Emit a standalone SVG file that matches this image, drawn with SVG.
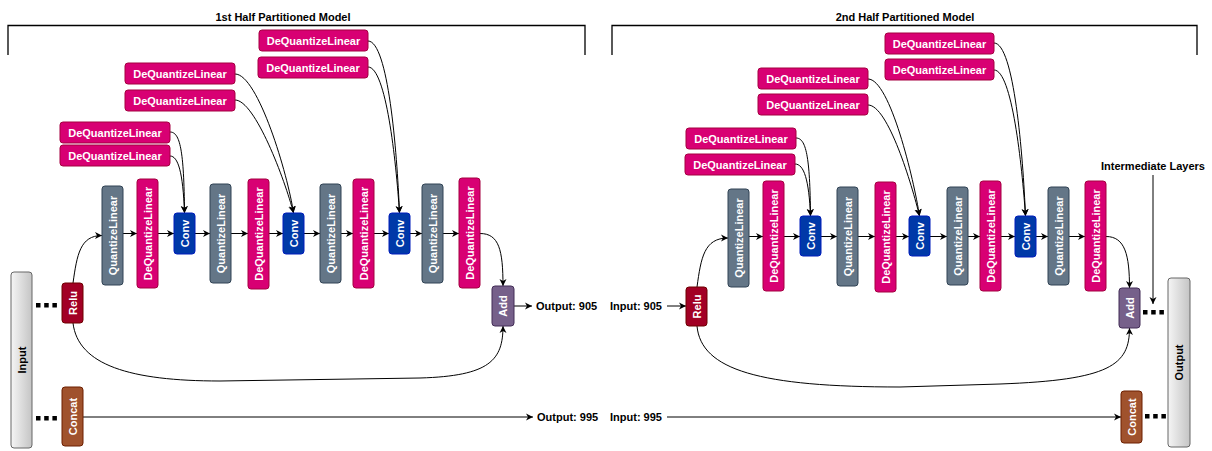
<svg xmlns="http://www.w3.org/2000/svg" width="1212" height="451" viewBox="0 0 1212 451">
<style>
text{font-family:"Liberation Sans",Arial,sans-serif;font-weight:bold;font-size:11px}
.w{fill:#fff;text-anchor:middle;dominant-baseline:central}
.k{fill:#000;dominant-baseline:central}
.dq{fill:#d80073;stroke:#a50040;stroke-width:1}
.q{fill:#647687;stroke:#314354;stroke-width:1}
.cv{fill:#0039a8;stroke:#001dbc;stroke-width:1}
.re{fill:#a20025;stroke:#6f0000;stroke-width:1}
.ad{fill:#76608a;stroke:#432d57;stroke-width:1}
.ct{fill:#a0522d;stroke:#6d1f00;stroke-width:1}
.io{fill:url(#g);stroke:#666;stroke-width:1}
.e{fill:none;stroke:#000;stroke-width:1}
.ea{fill:none;stroke:#000;stroke-width:1;marker-end:url(#ar)}
.br{fill:none;stroke:#000;stroke-width:1.3}
.dt{fill:#000}
</style>
<defs>
<linearGradient id="g" x1="0" y1="0" x2="1" y2="0">
<stop offset="0" stop-color="#f5f5f5"/><stop offset="1" stop-color="#c4c4c4"/>
</linearGradient>
<marker id="ar" markerUnits="userSpaceOnUse" markerWidth="8" markerHeight="8" viewBox="0 0 8 8" refX="7" refY="4" orient="auto">
<path d="M0,0.5 L7,4 L0,7.5 L2,4 Z" fill="#000"/>
</marker>
</defs>

<g id="brackets">
<path class="br" d="M8,55 V25.5 H585 V55"/>
<path class="br" d="M612,55 V25.5 H1197 V55"/>
<text x="283" y="17" text-anchor="middle" class="k">1st Half Partitioned Model</text>
<text x="905" y="17" text-anchor="middle" class="k">2nd Half Partitioned Model</text>
</g>

<g id="connectors">
<path class="ea" d="M170,132 C180,132 184,150 184.5,213"/>
<path class="ea" d="M170,156 C178,156 183,172 184.5,213"/>
<path class="ea" d="M235,74 C258,74 288,175 293.5,213"/>
<path class="ea" d="M235,100 C255,100 285,180 293.5,213"/>
<path class="ea" d="M368,41 C388,41 397,150 399.5,213"/>
<path class="ea" d="M368,67 C386,67 396,160 399.5,213"/>
<path class="ea" d="M73,283 C77,255 80,235.5 102,235.5"/>
<path class="ea" d="M123,233.5 H137"/>
<path class="ea" d="M158,233.5 H174"/>
<path class="ea" d="M195,233.5 H210"/>
<path class="ea" d="M231,233.5 H248"/>
<path class="ea" d="M269,233.5 H283"/>
<path class="ea" d="M304,233.5 H320"/>
<path class="ea" d="M341,233.5 H353"/>
<path class="ea" d="M374,233.5 H389"/>
<path class="ea" d="M410,233.5 H422"/>
<path class="ea" d="M443,233.5 H459"/>
<path class="ea" d="M480,233.5 C499,233.5 503,250 503,286"/>
<path class="ea" d="M73,323 C78,365 130,381 220,381 L420,378 C490,376 503,360 503,326"/>
<path class="ea" d="M514,306 H532"/>
<path class="ea" d="M83,417 H533"/>
<path class="ea" d="M667,306 H686"/>
<path class="e" d="M667,417 H1080"/>
<path class="ea" d="M1080,417 H1121"/>
<path class="ea" d="M796,138 C806,138 810,156 810.5,216"/>
<path class="ea" d="M795,164 C804,164 809,180 810.5,216"/>
<path class="ea" d="M868,79 C890,79 914,180 919.5,216"/>
<path class="ea" d="M868,105 C888,105 912,185 919.5,216"/>
<path class="ea" d="M994,43 C1014,43 1023,155 1025.5,216"/>
<path class="ea" d="M994,70 C1012,70 1022,165 1025.5,216"/>
<path class="ea" d="M697,287 C701,258 704,238 728,238"/>
<path class="ea" d="M749,236.5 H763"/>
<path class="ea" d="M784,236.5 H800"/>
<path class="ea" d="M821,236.5 H837"/>
<path class="ea" d="M858,236.5 H875"/>
<path class="ea" d="M896,236.5 H909"/>
<path class="ea" d="M930,236.5 H947"/>
<path class="ea" d="M968,236.5 H980"/>
<path class="ea" d="M1001,236.5 H1015"/>
<path class="ea" d="M1036,236.5 H1048"/>
<path class="ea" d="M1069,236.5 H1085"/>
<path class="ea" d="M1106,236.5 C1125,236.5 1129.5,255 1129.5,288"/>
<path class="ea" d="M697,326 C701,370 760,387 900,387 L1000,384 C1110,380 1129.5,365 1129.5,328"/>
<path class="ea" d="M1153,175 V304"/>
</g>

<g id="labels">
<text x="536" y="306" class="k">Output: 905</text>
<text x="537" y="417" class="k">Output: 995</text>
<text x="610" y="306" class="k">Input: 905</text>
<text x="610" y="417" class="k">Input: 995</text>
<text x="1153" y="166" text-anchor="middle" class="k">Intermediate Layers</text>
</g>

<g id="dots">
<rect class="dt" x="36" y="303" width="4.5" height="4.5"/><rect class="dt" x="44.2" y="303" width="4.5" height="4.5"/><rect class="dt" x="52.4" y="303" width="4.5" height="4.5"/>
<rect class="dt" x="36" y="416" width="4.5" height="4.5"/><rect class="dt" x="44.2" y="416" width="4.5" height="4.5"/><rect class="dt" x="52.4" y="416" width="4.5" height="4.5"/>
<rect class="dt" x="1143" y="310" width="4.5" height="4.5"/><rect class="dt" x="1151.2" y="310" width="4.5" height="4.5"/><rect class="dt" x="1159.4" y="310" width="4.5" height="4.5"/>
<rect class="dt" x="1145" y="414" width="4.5" height="4.5"/><rect class="dt" x="1153.2" y="414" width="4.5" height="4.5"/><rect class="dt" x="1161.4" y="414" width="4.5" height="4.5"/>
</g>

<g id="input"><rect class="io" x="11" y="272" width="21" height="176" rx="3"/><text class="k" text-anchor="middle" transform="translate(21.5,360) rotate(-90)">Input</text></g>
<g id="output"><rect class="io" x="1168" y="278" width="22" height="169" rx="3"/><text class="k" text-anchor="middle" transform="translate(1179,362.5) rotate(-90)">Output</text></g>

<g id="l-dqa1"><rect class="dq" x="60" y="122" width="110" height="21" rx="3"/><text class="w" x="115" y="132.5">DeQuantizeLinear</text></g>
<g id="l-dqa2"><rect class="dq" x="60" y="145" width="110" height="21" rx="3"/><text class="w" x="115" y="155.5">DeQuantizeLinear</text></g>
<g id="l-dqb1"><rect class="dq" x="125" y="63" width="110" height="21" rx="3"/><text class="w" x="180" y="73.5">DeQuantizeLinear</text></g>
<g id="l-dqb2"><rect class="dq" x="125" y="90" width="110" height="21" rx="3"/><text class="w" x="180" y="100.5">DeQuantizeLinear</text></g>
<g id="l-dqc1"><rect class="dq" x="259" y="30" width="109" height="21" rx="3"/><text class="w" x="313.5" y="40.5">DeQuantizeLinear</text></g>
<g id="l-dqc2"><rect class="dq" x="258" y="57" width="110" height="21" rx="3"/><text class="w" x="313" y="67.5">DeQuantizeLinear</text></g>

<g id="l-relu"><rect class="re" x="62" y="283" width="21" height="40" rx="3"/><text class="w" transform="translate(72.5,303) rotate(-90)">Relu</text></g>
<g id="l-concat"><rect class="ct" x="62" y="387" width="21" height="59" rx="3"/><text class="w" transform="translate(72.5,416.5) rotate(-90)">Concat</text></g>
<g id="l-q1"><rect class="q" x="102" y="186" width="21" height="99" rx="3"/><text class="w" transform="translate(112.5,235.5) rotate(-90)">QuantizeLinear</text></g>
<g id="l-dq1"><rect class="dq" x="137" y="179" width="21" height="109" rx="3"/><text class="w" transform="translate(147.5,233.5) rotate(-90)">DeQuantizeLinear</text></g>
<g id="l-conv1"><rect class="cv" x="174" y="213" width="21" height="41" rx="3"/><text class="w" transform="translate(184.5,233.5) rotate(-90)">Conv</text></g>
<g id="l-q2"><rect class="q" x="210" y="184" width="21" height="99" rx="3"/><text class="w" transform="translate(220.5,233.5) rotate(-90)">QuantizeLinear</text></g>
<g id="l-dq2"><rect class="dq" x="248" y="179" width="21" height="110" rx="3"/><text class="w" transform="translate(258.5,234) rotate(-90)">DeQuantizeLinear</text></g>
<g id="l-conv2"><rect class="cv" x="283" y="213" width="21" height="41" rx="3"/><text class="w" transform="translate(293.5,233.5) rotate(-90)">Conv</text></g>
<g id="l-q3"><rect class="q" x="320" y="184" width="21" height="99" rx="3"/><text class="w" transform="translate(330.5,233.5) rotate(-90)">QuantizeLinear</text></g>
<g id="l-dq3"><rect class="dq" x="353" y="179" width="21" height="109" rx="3"/><text class="w" transform="translate(363.5,233.5) rotate(-90)">DeQuantizeLinear</text></g>
<g id="l-conv3"><rect class="cv" x="389" y="213" width="21" height="41" rx="3"/><text class="w" transform="translate(399.5,233.5) rotate(-90)">Conv</text></g>
<g id="l-q4"><rect class="q" x="422" y="184" width="21" height="99" rx="3"/><text class="w" transform="translate(432.5,233.5) rotate(-90)">QuantizeLinear</text></g>
<g id="l-dq4"><rect class="dq" x="459" y="178" width="21" height="110" rx="3"/><text class="w" transform="translate(469.5,233) rotate(-90)">DeQuantizeLinear</text></g>
<g id="l-add"><rect class="ad" x="492" y="286" width="22" height="40" rx="3"/><text class="w" transform="translate(503,306) rotate(-90)">Add</text></g>

<g id="r-dqd1"><rect class="dq" x="686" y="128" width="110" height="21" rx="3"/><text class="w" x="741" y="138.5">DeQuantizeLinear</text></g>
<g id="r-dqd2"><rect class="dq" x="685" y="154" width="110" height="21" rx="3"/><text class="w" x="740" y="164.5">DeQuantizeLinear</text></g>
<g id="r-dqe1"><rect class="dq" x="758" y="68" width="110" height="21" rx="3"/><text class="w" x="813" y="78.5">DeQuantizeLinear</text></g>
<g id="r-dqe2"><rect class="dq" x="758" y="94" width="110" height="21" rx="3"/><text class="w" x="813" y="104.5">DeQuantizeLinear</text></g>
<g id="r-dqf1"><rect class="dq" x="885" y="33" width="109" height="21" rx="3"/><text class="w" x="939.5" y="43.5">DeQuantizeLinear</text></g>
<g id="r-dqf2"><rect class="dq" x="885" y="59" width="109" height="21" rx="3"/><text class="w" x="939.5" y="69.5">DeQuantizeLinear</text></g>

<g id="r-relu"><rect class="re" x="686" y="287" width="21" height="39" rx="3"/><text class="w" transform="translate(696.5,306.5) rotate(-90)">Relu</text></g>
<g id="r-q1"><rect class="q" x="728" y="189" width="21" height="98" rx="3"/><text class="w" transform="translate(738.5,238) rotate(-90)">QuantizeLinear</text></g>
<g id="r-dq1"><rect class="dq" x="763" y="181" width="21" height="110" rx="3"/><text class="w" transform="translate(773.5,236) rotate(-90)">DeQuantizeLinear</text></g>
<g id="r-conv1"><rect class="cv" x="800" y="216" width="21" height="40" rx="3"/><text class="w" transform="translate(810.5,236) rotate(-90)">Conv</text></g>
<g id="r-q2"><rect class="q" x="837" y="187" width="21" height="99" rx="3"/><text class="w" transform="translate(847.5,236.5) rotate(-90)">QuantizeLinear</text></g>
<g id="r-dq2"><rect class="dq" x="875" y="182" width="21" height="110" rx="3"/><text class="w" transform="translate(885.5,237) rotate(-90)">DeQuantizeLinear</text></g>
<g id="r-conv2"><rect class="cv" x="909" y="216" width="21" height="40" rx="3"/><text class="w" transform="translate(919.5,236) rotate(-90)">Conv</text></g>
<g id="r-q3"><rect class="q" x="947" y="187" width="21" height="98" rx="3"/><text class="w" transform="translate(957.5,236) rotate(-90)">QuantizeLinear</text></g>
<g id="r-dq3"><rect class="dq" x="980" y="181" width="21" height="110" rx="3"/><text class="w" transform="translate(990.5,236) rotate(-90)">DeQuantizeLinear</text></g>
<g id="r-conv3"><rect class="cv" x="1015" y="216" width="21" height="41" rx="3"/><text class="w" transform="translate(1025.5,236.5) rotate(-90)">Conv</text></g>
<g id="r-q4"><rect class="q" x="1048" y="187" width="21" height="98" rx="3"/><text class="w" transform="translate(1058.5,236) rotate(-90)">QuantizeLinear</text></g>
<g id="r-dq4"><rect class="dq" x="1085" y="181" width="21" height="110" rx="3"/><text class="w" transform="translate(1095.5,236) rotate(-90)">DeQuantizeLinear</text></g>
<g id="r-add"><rect class="ad" x="1119" y="288" width="21" height="40" rx="3"/><text class="w" transform="translate(1129.5,308) rotate(-90)">Add</text></g>
<g id="r-concat"><rect class="ct" x="1121" y="391" width="21" height="52" rx="3"/><text class="w" transform="translate(1131.5,417) rotate(-90)">Concat</text></g>
</svg>
